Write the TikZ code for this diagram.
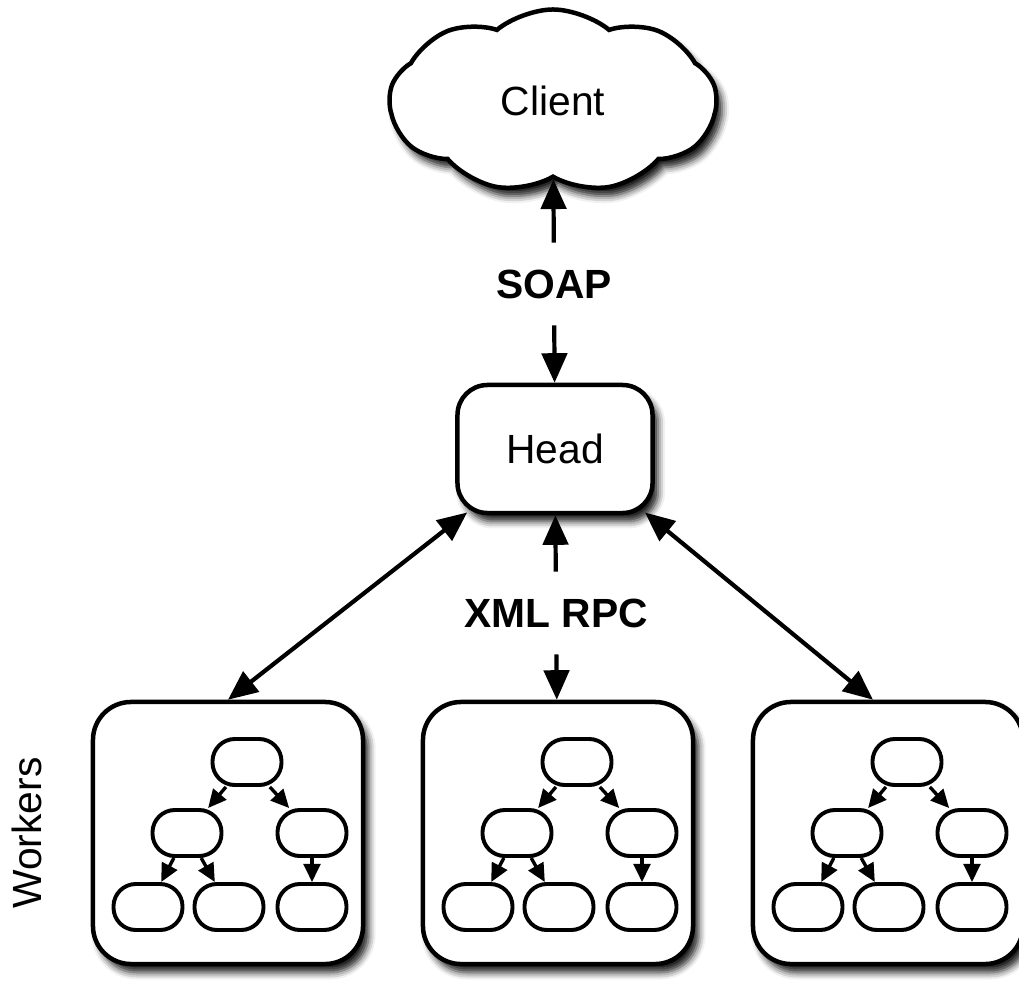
\documentclass[tikz,border=0pt]{standalone}
\usepackage{fontspec}
\setmainfont{Liberation Sans}
\usetikzlibrary{shapes.symbols,arrows.meta,shadows.blur}

\tikzset{
  softshadow/.style={blur shadow={shadow xshift=4pt,shadow yshift=-6pt,shadow blur radius=5pt,shadow opacity=90}},
  bigarrow/.style={-{Triangle[length=21pt,width=18pt]},line width=3pt},
  tarrow/.style={-{Triangle[length=13pt,width=12pt]},line width=2.4pt},
}

\begin{document}
\begin{tikzpicture}[x=0.025cm,y=-0.025cm,
    every node/.style={font=\fontsize{29}{34}\selectfont},
    workerbox/.style={draw,line width=3.2pt,fill=white,rounded corners=0.95cm,
      minimum width=6.75cm,minimum height=6.55cm,softshadow},
    leaf/.style={draw,line width=2.8pt,fill=white,rounded corners=0.56cm,
      minimum width=1.725cm,minimum height=1.15cm},
    proto/.style={font=\fontsize{29}{34}\selectfont\bfseries,inner xsep=2pt,inner ysep=19pt}]
    \useasboundingbox (0,0) rectangle (1019,986);

    % client and head
    \node[cloud,cloud puffs=9,cloud puff arc=80,aspect=1.79,draw,line width=3.2pt,fill=white,
      minimum width=8.175cm,minimum height=4.575cm,softshadow] (client) at (553,101) {Client};
    \node[draw,line width=3.2pt,fill=white,rounded corners=0.75cm,
      minimum width=4.875cm,minimum height=3.2cm,softshadow] (head) at (555,449) {Head};

    \node[proto] (soap) at (554,284) {SOAP};
    \node[proto] (xml) at (556,613) {XML RPC};

    \node[rotate=90] (wlabel) at (27,833) {Workers};

    % workers, each with a small tree
    \foreach \i/\cx in {1/228,2/558,3/888} {
        \node[workerbox] (w\i) at (\cx,833) {};

        \node[leaf] (r\i) at ({\cx+19},762) {};
        \node[leaf] (a\i) at ({\cx-41},833) {};
        \node[leaf] (b\i) at ({\cx+84},833) {};
        \node[leaf] (c\i) at ({\cx-80},907) {};
        \node[leaf] (d\i) at ({\cx+1},907) {};
        \node[leaf] (e\i) at ({\cx+84},907) {};

        \draw[tarrow] (r\i) -- (a\i);
        \draw[tarrow] (r\i) -- (b\i);
        \draw[tarrow] (a\i) -- (c\i);
        \draw[tarrow] (a\i) -- (d\i);
        \draw[tarrow] (b\i) -- (e\i);
    }

    % connectors
    \draw[bigarrow] (soap) -- (client);
    \draw[bigarrow] (soap) -- (head);
    \draw[bigarrow] (xml) -- (head);
    \draw[bigarrow] (xml) -- (w2);
    \draw[bigarrow,{Triangle[length=21pt,width=18pt]}-{Triangle[length=21pt,width=18pt]}]
        ([xshift=8.5pt,yshift=2pt]head.south west) -- (w1.north);
    \draw[bigarrow,{Triangle[length=21pt,width=18pt]}-{Triangle[length=21pt,width=18pt]}]
        ([xshift=-7pt,yshift=2pt]head.south east) -- ([xshift=-10.7pt]w3.north);
\end{tikzpicture}
\end{document}
